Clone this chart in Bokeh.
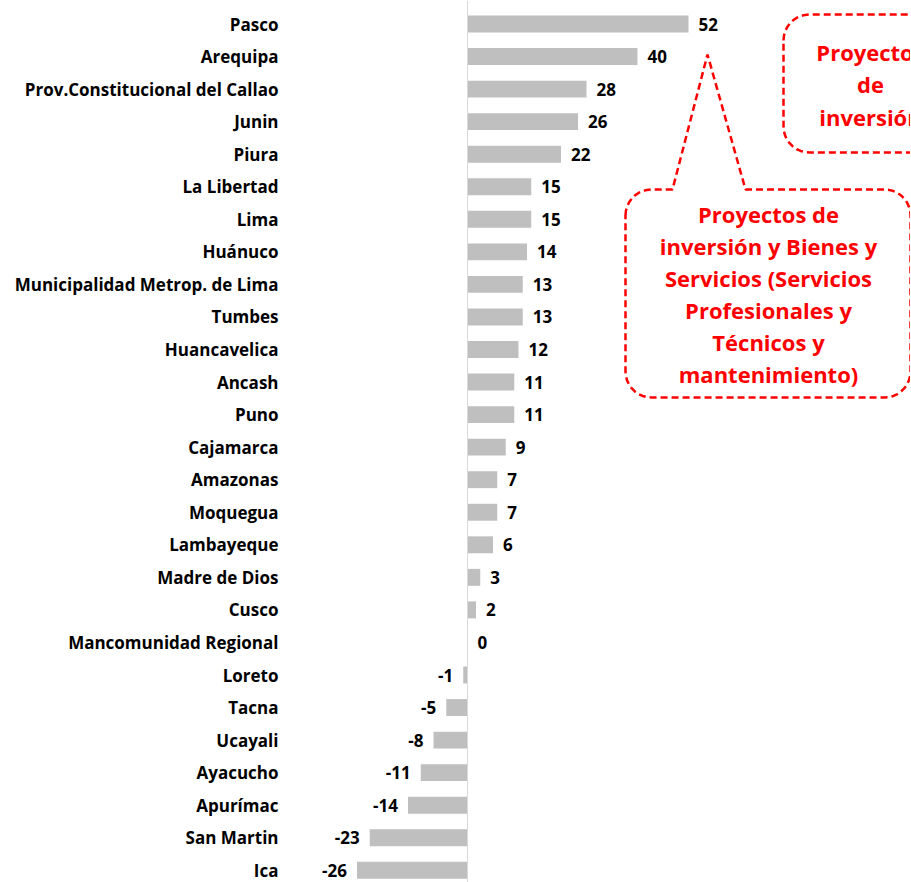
import numpy as np
from bokeh.plotting import figure
from bokeh.models import Range1d, Span, ColumnDataSource
from bokeh.core.properties import value
from bokeh.embed import file_html
from bokeh.resources import INLINE

regions = ["Pasco", "Arequipa", "Prov.Constitucional del Callao", "Junin", "Piura",
           "La Libertad", "Lima", "Huánuco", "Municipalidad Metrop. de Lima", "Tumbes",
           "Huancavelica", "Ancash", "Puno", "Cajamarca", "Amazonas", "Moquegua",
           "Lambayeque", "Madre de Dios", "Cusco", "Mancomunidad Regional", "Loreto",
           "Tacna", "Ucayali", "Ayacucho", "Apurímac", "San Martin", "Ica"]
values = [52, 40, 28, 26, 22, 15, 15, 14, 13, 13, 12, 11, 11, 9, 7, 7, 6, 3, 2, 0,
          -1, -5, -8, -11, -14, -23, -26]
callout_main = ["Proyectos de", "inversión y Bienes y", "Servicios (Servicios",
                "Profesionales y", "Técnicos y", "mantenimiento)"]
callout_side = ["Proyectos", "de", "inversión"]

W, H = 910, 882
X0, SX = 467, 4.25     # canvas px of zero, px per unit
Y0, SY = 23.5, 32.55   # canvas px of first row, px per row
FONT = "Open Sans"

p = figure(width=W, height=H, output_backend="svg", toolbar_location=None,
           x_range=Range1d(-X0 / SX, (W - X0) / SX),
           y_range=Range1d((H - Y0) / SY, -Y0 / SY),
           min_border=0)
p.axis.visible = False
p.grid.visible = False
p.outline_line_color = None
p.background_fill_color = "white"
p.border_fill_color = "white"

idx = list(range(len(regions)))
src = ColumnDataSource(dict(y=idx, v=values, name=regions))

p.add_layout(Span(location=0, dimension="height", line_color="#d9d9d9", line_width=1))
p.hbar(y="y", left=0, right="v", height=0.52, source=src, fill_color="#bfbfbf",
       line_color=None)

p.text(x=0, y="y", text="name", source=src, x_offset=-189, text_align="right",
       text_baseline="middle", text_font=value(FONT), text_font_style="bold",
       text_font_size="17px", text_color="black")

pos = ColumnDataSource(dict(y=[i for i in idx if values[i] >= 0],
                            v=[v for v in values if v >= 0],
                            lab=[str(v) for v in values if v >= 0]))
neg = ColumnDataSource(dict(y=[i for i in idx if values[i] < 0],
                            v=[v for v in values if v < 0],
                            lab=[str(v) for v in values if v < 0]))
p.text(x="v", y="y", text="lab", source=pos, x_offset=10, text_align="left",
       text_baseline="middle", text_font=value(FONT), text_font_style="bold",
       text_font_size="17px", text_color="black")
p.text(x="v", y="y", text="lab", source=neg, x_offset=-10, text_align="right",
       text_baseline="middle", text_font=value(FONT), text_font_style="bold",
       text_font_size="17px", text_color="black")


def to_data(xp, yp):
    return (xp - X0) / SX, (yp - Y0) / SY


def rounded_path(l, t, r, b, rad, notch=None):
    pts = []
    def arc(cx, cy, a0, a1):
        for a in np.linspace(a0, a1, 10):
            pts.append((cx + rad * np.cos(a), cy + rad * np.sin(a)))
    arc(l + rad, t + rad, np.pi, 1.5 * np.pi)
    if notch is not None:
        n0, tip, n1 = notch
        pts.append((n0, t))
        pts.append(tip)
        pts.append((n1, t))
    arc(r - rad, t + rad, 1.5 * np.pi, 2 * np.pi)
    arc(r - rad, b - rad, 0, 0.5 * np.pi)
    arc(l + rad, b - rad, 0.5 * np.pi, np.pi)
    pts.append(pts[0])
    xs, ys = zip(*[to_data(x, y) for x, y in pts])
    return list(xs), list(ys)


xs, ys = rounded_path(625, 189, 910, 397, 26, notch=(672, (707, 54), 745))
p.patch(xs, ys, fill_color="white", line_color="#ff0000", line_width=2.5,
        line_dash="7 4")
xs2, ys2 = rounded_path(783, 14, 975, 152, 26)
p.patch(xs2, ys2, fill_color="white", line_color="#ff0000", line_width=2.5,
        line_dash="7 4")

cx, cy = to_data(768, 213)
p.text(x=[cx] * len(callout_main),
       y=[cy + i * 32.0 / SY for i in range(len(callout_main))],
       text=callout_main, text_align="center", text_baseline="middle",
       text_font=value(FONT), text_font_style="bold", text_font_size="22px",
       text_color="#ff0000")
cx2, cy2 = to_data(870, 51)
p.text(x=[cx2] * len(callout_side),
       y=[cy2 + i * 32.5 / SY for i in range(len(callout_side))],
       text=callout_side, text_align="center", text_baseline="middle",
       text_font=value(FONT), text_font_style="bold", text_font_size="22px",
       text_color="#ff0000")

open("out.html", "w").write(file_html(p, INLINE))
